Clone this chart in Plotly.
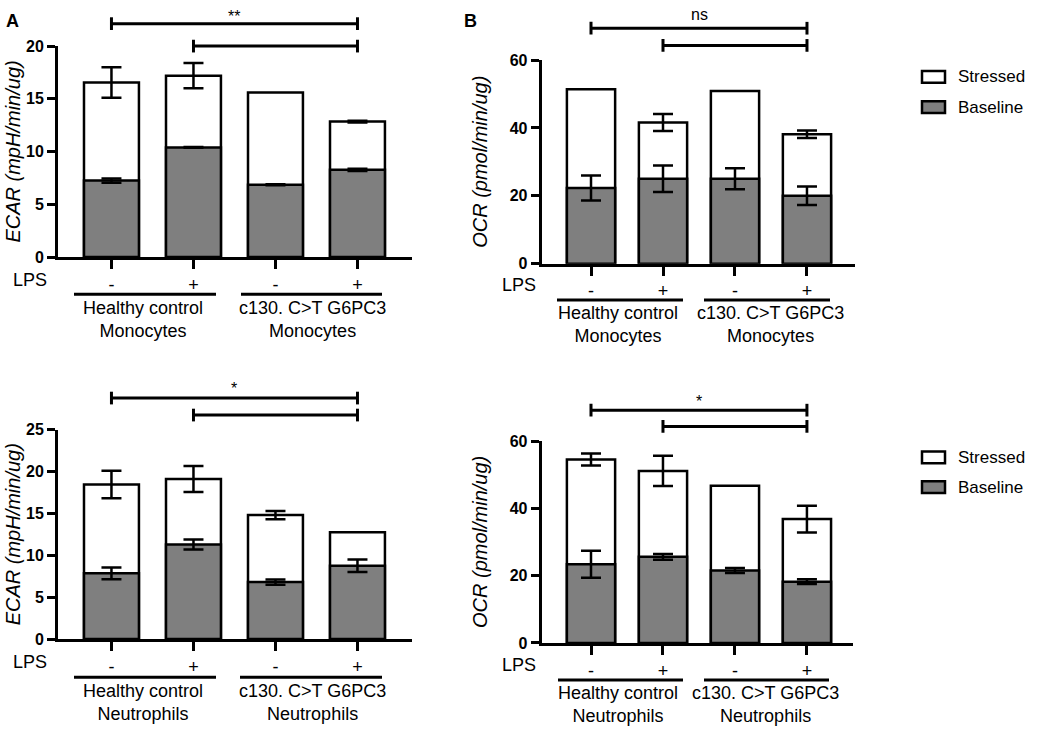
"""
Stacked ECAR / OCR bar panels (monocytes and neutrophils)
"""

import plotly.graph_objects as go

W, H = 1039, 734

# x-axis categories
lps = ["-", "+", "-", "+"]
groups_mono = ["Healthy control<br>Monocytes", "c130. C>T G6PC3<br>Monocytes"]
groups_neut = ["Healthy control<br>Neutrophils", "c130. C>T G6PC3<br>Neutrophils"]

# A, monocytes - ECAR
ecar_mono_stressed = [16.55, 17.2, 15.6, 12.85]
ecar_mono_stressed_err = [1.45, 1.2, None, 0.08]
ecar_mono_baseline = [7.25, 10.4, 6.85, 8.27]
ecar_mono_baseline_err = [0.2, 0.03, 0.05, 0.1]

# B, monocytes - OCR
ocr_mono_stressed = [51.4, 41.6, 50.9, 38.15]
ocr_mono_stressed_err = [None, 2.5, None, 1.1]
ocr_mono_baseline = [22.3, 25.0, 25.0, 20.0]
ocr_mono_baseline_err = [3.7, 3.9, 3.1, 2.7]

# A, neutrophils - ECAR
ecar_neut_stressed = [18.45, 19.1, 14.8, 12.75]
ecar_neut_stressed_err = [1.65, 1.55, 0.5, None]
ecar_neut_baseline = [7.85, 11.3, 6.8, 8.75]
ecar_neut_baseline_err = [0.7, 0.6, 0.32, 0.75]

# B, neutrophils - OCR
ocr_neut_stressed = [54.5, 51.1, 46.7, 36.8]
ocr_neut_stressed_err = [1.8, 4.5, None, 3.95]
ocr_neut_baseline = [23.4, 25.6, 21.5, 18.2]
ocr_neut_baseline_err = [4.0, 0.85, 0.75, 0.7]

# significance brackets: (from, to) bar indices and the label per panel
sig_pairs = [(0, 3), (1, 3)]
sig_labels = ["**", "ns", "*", "*"]

FONT = "Liberation Sans, Arial, sans-serif"
GREY = "#7f7f7f"


def fx(px):
    return px / W


def fy(py):
    return 1 - py / H


# panel geometry in pixels
panels = [
    dict(name="", stressed=ecar_mono_stressed, s_err=ecar_mono_stressed_err,
         baseline=ecar_mono_baseline, b_err=ecar_mono_baseline_err,
         x0=58, x1=412, y_top=39, y_bot=255, xr=[-0.652, 3.665], yr=[0, 20], dtick=5,
         title="ECAR (mpH/min/ug)", title_x=13, groups=groups_mono,
         sig_y=[16, 39], sig_txt_y=9, lps_y=278, group_line_y=293,
         group_lines=[(74, 216), (241, 382)], group_txt=[(143, 319), (312, 319)],
         legend=False),
    dict(name="2", stressed=ocr_mono_stressed, s_err=ocr_mono_stressed_err,
         baseline=ocr_mono_baseline, b_err=ocr_mono_baseline_err,
         x0=541.7, x1=855, y_top=53.3, y_bot=261.7, xr=[-0.685, 3.667], yr=[0, 60], dtick=20,
         title="OCR (pmol/min/ug)", title_x=480, groups=groups_mono,
         sig_y=[20.7, 38.3], sig_txt_y=7, lps_y=284, group_line_y=299,
         group_lines=[(557, 683), (704, 830)], group_txt=[(618, 324), (770, 324)],
         legend=True, leg_y=[70.5, 101.5]),
    dict(name="3", stressed=ecar_neut_stressed, s_err=ecar_neut_stressed_err,
         baseline=ecar_neut_baseline, b_err=ecar_neut_baseline_err,
         x0=58, x1=412, y_top=431.7, y_bot=646, xr=[-0.652, 3.665], yr=[0, 25], dtick=5,
         title="ECAR (mpH/min/ug)", title_x=13, groups=groups_neut,
         sig_y=[399.3, 416.7], sig_txt_y=390, lps_y=670, group_line_y=685,
         group_lines=[(74, 216), (240, 382)], group_txt=[(143, 711), (312, 711)],
         legend=False),
    dict(name="4", stressed=ocr_neut_stressed, s_err=ocr_neut_stressed_err,
         baseline=ocr_neut_baseline, b_err=ocr_neut_baseline_err,
         x0=541.7, x1=853, y_top=443.3, y_bot=650, xr=[-0.685, 3.64], yr=[0, 60], dtick=20,
         title="OCR (pmol/min/ug)", title_x=480, groups=groups_neut,
         sig_y=[411.7, 428.3], sig_txt_y=403, lps_y=673, group_line_y=688,
         group_lines=[(558, 683), (704, 829)], group_txt=[(618, 713), (765, 713)],
         legend=True, leg_y=[460, 490.5]),
]

fig = go.Figure()
shapes = []
annotations = []
x_idx = list(range(len(lps)))

for i, p in enumerate(panels):
    xa = "x" + p["name"]
    ya = "y" + p["name"]
    lps_x = 30 if not p["legend"] else 519

    # stressed (total) behind, baseline in front
    fig.add_trace(go.Bar(
        x=x_idx, y=p["stressed"], name="Stressed", width=0.67,
        marker=dict(color="white", line=dict(color="black", width=2.5)),
        xaxis=xa, yaxis=ya, showlegend=False,
    ))
    fig.add_trace(go.Bar(
        x=x_idx, y=p["baseline"], name="Baseline", width=0.67,
        marker=dict(color=GREY, line=dict(color="black", width=2.5)),
        xaxis=xa, yaxis=ya, showlegend=False,
    ))

    # error bars (SEM) as markerless scatter
    for vals, errs in ((p["stressed"], p["s_err"]), (p["baseline"], p["b_err"])):
        xs = [k for k, e in zip(x_idx, errs) if e is not None]
        ys = [v for v, e in zip(vals, errs) if e is not None]
        es = [e for e in errs if e is not None]
        fig.add_trace(go.Scatter(
            x=xs, y=ys, mode="markers", marker=dict(size=1, opacity=0),
            error_y=dict(type="data", array=es, color="black", thickness=2.5, width=10),
            xaxis=xa, yaxis=ya, showlegend=False, hoverinfo="skip",
        ))

    dom_x = [fx(p["x0"]), fx(p["x1"])]
    dom_y = [fy(p["y_bot"]), fy(p["y_top"])]
    fig.layout["xaxis" + p["name"]] = dict(
        domain=dom_x, range=p["xr"], anchor=ya,
        tickvals=x_idx, ticktext=lps, ticks="outside", ticklen=9, tickwidth=3,
        tickcolor="black", showline=True, linewidth=3, linecolor="black",
        showgrid=False, zeroline=False, fixedrange=True,
        tickfont=dict(family=FONT, size=18, color="black"),
    )
    fig.layout["yaxis" + p["name"]] = dict(
        domain=dom_y, range=p["yr"], anchor=xa, dtick=p["dtick"],
        ticks="outside", ticklen=8, tickwidth=3, tickcolor="black",
        showline=True, linewidth=3, linecolor="black",
        showgrid=False, zeroline=False, fixedrange=True,
        tickfont=dict(family=FONT, size=16, color="black", weight="bold"),
    )

    # y-axis title
    annotations.append(dict(
        text=p["title"], xref="paper", yref="paper",
        x=fx(p["title_x"]), y=(dom_y[0] + dom_y[1]) / 2, textangle=-90,
        showarrow=False, xanchor="center", yanchor="middle",
        font=dict(family=FONT, size=20, color="black", style="italic"),
    ))

    # LPS row label
    annotations.append(dict(
        text="LPS", xref="paper", yref="paper",
        x=fx(lps_x), y=fy(p["lps_y"]),
        showarrow=False, xanchor="center", yanchor="middle",
        font=dict(family=FONT, size=18, color="black"),
    ))

    # group underlines and labels
    for (gx0, gx1), (tx, ty), label in zip(p["group_lines"], p["group_txt"], p["groups"]):
        shapes.append(dict(
            type="line", xref="paper", yref="paper",
            x0=fx(gx0), x1=fx(gx1), y0=fy(p["group_line_y"]), y1=fy(p["group_line_y"]),
            line=dict(color="black", width=3),
        ))
        annotations.append(dict(
            text=label, xref="paper", yref="paper", x=fx(tx), y=fy(ty),
            showarrow=False, xanchor="center", yanchor="middle", align="center",
            font=dict(family=FONT, size=18, color="black"),
        ))

    # significance brackets
    for (a, b), sy in zip(sig_pairs, p["sig_y"]):
        shapes.append(dict(
            type="line", xref=xa, yref="paper", x0=a, x1=b, y0=fy(sy), y1=fy(sy),
            line=dict(color="black", width=3),
        ))
        for xe in (a, b):
            shapes.append(dict(
                type="line", xref=xa, yref="paper", x0=xe, x1=xe,
                y0=fy(sy - 6.5), y1=fy(sy + 6.5), line=dict(color="black", width=3),
            ))
    annotations.append(dict(
        text=sig_labels[i], xref=xa, yref="paper", x=1.5, y=fy(p["sig_txt_y"]),
        showarrow=False, xanchor="center", yanchor="middle",
        font=dict(family=FONT, size=16, color="black"),
    ))

    # legend drawn beside the B panels
    if p["legend"]:
        for (label, color), ly in zip((("Stressed", "white"), ("Baseline", GREY)), p["leg_y"]):
            shapes.append(dict(
                type="rect", xref="paper", yref="paper",
                x0=fx(922), x1=fx(945), y0=fy(ly - 6), y1=fy(ly + 6),
                fillcolor=color, line=dict(color="black", width=2.5),
            ))
            annotations.append(dict(
                text=label, xref="paper", yref="paper", x=fx(956), y=fy(ly),
                showarrow=False, xanchor="left", yanchor="middle",
                font=dict(family=FONT, size=17, color="black"),
            ))

# panel letters
for letter, lx in (("A", 12), ("B", 470)):
    annotations.append(dict(
        text="<b>%s</b>" % letter, xref="paper", yref="paper", x=fx(lx), y=fy(13),
        showarrow=False, xanchor="center", yanchor="middle",
        font=dict(family=FONT, size=18, color="black"),
    ))

fig.update_layout(
    width=W, height=H, autosize=False, margin=dict(l=0, r=0, t=0, b=0),
    barmode="overlay", bargap=0.33,
    paper_bgcolor="white", plot_bgcolor="white",
    font=dict(family=FONT, color="black"),
    shapes=shapes, annotations=annotations,
)

# pin the figure to the window corner so the page is exactly 1039x734
pin = (
    "document.body.style.margin='0px';"
    "document.documentElement.style.overflow='hidden';"
    "var gd=document.getElementById('{plot_id}');"
    "gd.style.position='fixed';gd.style.top='0px';gd.style.left='0px';"
)
fig.write_html(
    "out.html",
    config=dict(displayModeBar=False, responsive=False),
    post_script=pin,
)
